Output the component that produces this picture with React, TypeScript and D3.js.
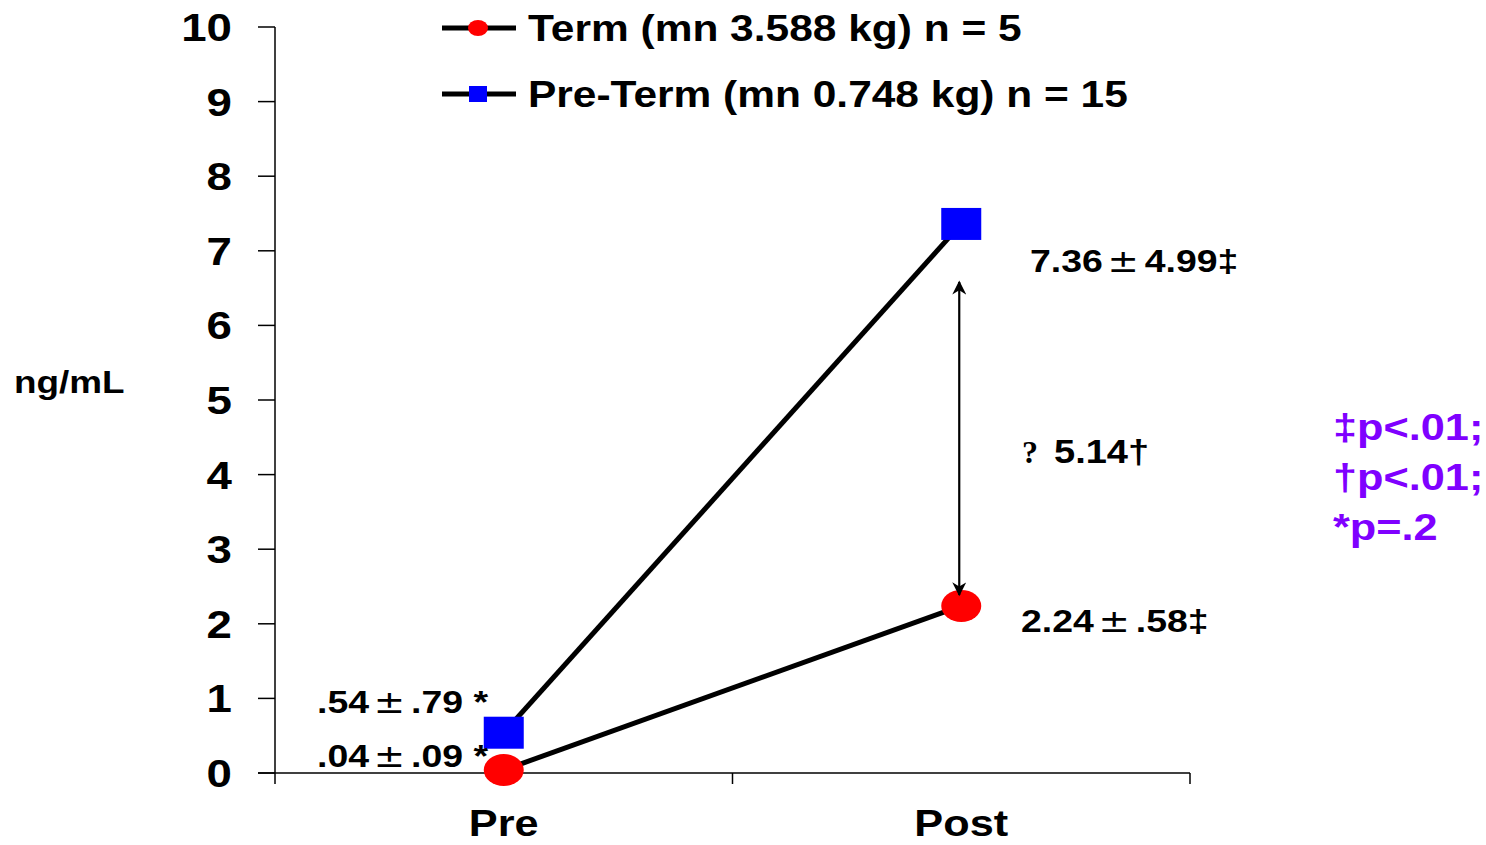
import * as d3 from "d3";

const phases = ["Pre", "Post"];
const termValues = [0.04, 2.24];
const pretermValues = [0.54, 7.36];
const termLabels = [[".04", ".09 *"], ["2.24", ".58‡"]];
const pretermLabels = [[".54", ".79 *"], ["7.36", "4.99‡"]];
const yTicks = [0, 1, 2, 3, 4, 5, 6, 7, 8, 9, 10];
const legendItems = ["Term (mn 3.588 kg) n = 5", "Pre-Term (mn 0.748 kg) n = 15"];
const diffLabel = "5.14†";
const pNotes = ["‡p<.01;", "†p<.01;", "*p=.2"];

const W = 1486;
const H = 845;
const FONT = "'Liberation Sans', Arial, sans-serif";
const SX = 1.17;

function Txt({ x, y, size, anchor = "start", fill = "#000", children }: any) {
  return (
    <text
      transform={`translate(${x},${y}) scale(${SX},1)`}
      fontFamily={FONT}
      fontWeight="bold"
      fontSize={size}
      textAnchor={anchor}
      fill={fill}
    >
      {children}
    </text>
  );
}

// value ± sd, with the ± in a thin face as in the slide
function PMText({ pair }: { pair: string[] }) {
  return (
    <>
      {pair[0]}
      <tspan dx={4} fontWeight="normal" fontFamily="'DejaVu Sans', sans-serif">
        ±
      </tspan>
      <tspan dx={5}>{pair[1]}</tspan>
    </>
  );
}

export default function App() {
  const x = d3.scaleBand().domain(phases).range([275, 1190]);
  const y = d3.scaleLinear().domain([0, 10]).range([773, 27]);
  const cx = (p: string) => (x(p) as number) + x.bandwidth() / 2;

  const line = d3
    .line<number>()
    .x((_, i) => cx(phases[i]))
    .y((d) => y(d));

  const postX = cx("Post");

  return (
    <svg
      width={W}
      height={H}
      style={{ position: "absolute", left: 0, top: 0, background: "#fff" }}
    >
      {/* axes */}
      <line x1={275} x2={275} y1={y(10)} y2={y(0)} stroke="#000" strokeWidth={1.5} />
      <line x1={258} x2={1190} y1={y(0)} y2={y(0)} stroke="#000" strokeWidth={1.5} />
      {yTicks.map((t) => (
        <g key={t}>
          <line x1={258} x2={275} y1={y(t)} y2={y(t)} stroke="#000" strokeWidth={1.5} />
          <Txt x={232} y={y(t) + 14} size={39} anchor="end">
            {t}
          </Txt>
        </g>
      ))}
      {[275, 275 + x.bandwidth(), 1190].map((v) => (
        <line key={v} x1={v} x2={v} y1={y(0)} y2={y(0) + 11} stroke="#000" strokeWidth={1.5} />
      ))}
      {phases.map((p) => (
        <Txt key={p} x={cx(p)} y={836} size={37} anchor="middle">
          {p}
        </Txt>
      ))}
      <Txt x={14} y={393} size={31.5}>
        ng/mL
      </Txt>

      {/* series lines */}
      <path d={line(pretermValues) as string} fill="none" stroke="#000" strokeWidth={5} />
      <path d={line(termValues) as string} fill="none" stroke="#000" strokeWidth={5} />

      {/* markers */}
      {termValues.map((v, i) => (
        <ellipse key={i} cx={cx(phases[i])} cy={y(v)} rx={20} ry={16} fill="#ff0000" />
      ))}
      {pretermValues.map((v, i) => (
        <rect key={i} x={cx(phases[i]) - 20} y={y(v) - 16} width={40} height={32} fill="#0000ff" />
      ))}

      {/* difference arrow */}
      <defs>
        <marker
          id="ah"
          viewBox="0 0 10 10"
          refX="9"
          refY="5"
          markerWidth="18"
          markerHeight="14"
          orient="auto-start-reverse"
          markerUnits="userSpaceOnUse"
        >
          <path d="M0,0 L10,5 L0,10 L3,5 z" fill="#000" />
        </marker>
      </defs>
      <line
        x1={postX - 2}
        x2={postX - 2}
        y1={y(pretermValues[1]) + 58}
        y2={y(termValues[1]) - 11}
        stroke="#000"
        strokeWidth={2.2}
        markerStart="url(#ah)"
        markerEnd="url(#ah)"
      />

      {/* value annotations */}
      <Txt x={488} y={713} size={32} anchor="end">
        <PMText pair={pretermLabels[0]} />
      </Txt>
      <Txt x={488} y={767} size={32} anchor="end">
        <PMText pair={termLabels[0]} />
      </Txt>
      <Txt x={1030} y={y(pretermValues[1]) + 48} size={32}>
        <PMText pair={pretermLabels[1]} />
      </Txt>
      <Txt x={1021} y={y(termValues[1]) + 26} size={32}>
        <PMText pair={termLabels[1]} />
      </Txt>
      <text x={1022} y={463} fontFamily="'Liberation Serif', serif" fontWeight="bold" fontSize={32}>
        ?
      </text>
      <Txt x={1054} y={463} size={32.5}>
        {diffLabel}
      </Txt>

      {/* legend */}
      {legendItems.map((name, i) => {
        const ly = 28 + i * 66;
        return (
          <g key={name}>
            <line x1={442} x2={516} y1={ly} y2={ly} stroke="#000" strokeWidth={5} />
            {i === 0 ? (
              <ellipse cx={478} cy={ly} rx={10} ry={8} fill="#ff0000" />
            ) : (
              <rect x={469} y={ly - 8} width={18} height={16} fill="#0000ff" />
            )}
            <Txt x={528} y={ly + 13} size={36.3}>
              {name}
            </Txt>
          </g>
        );
      })}

      {/* p-values */}
      {pNotes.map((t, i) => (
        <Txt key={t} x={1333} y={440 + i * 50} size={37} fill="#7f00ff">
          {t}
        </Txt>
      ))}
    </svg>
  );
}
